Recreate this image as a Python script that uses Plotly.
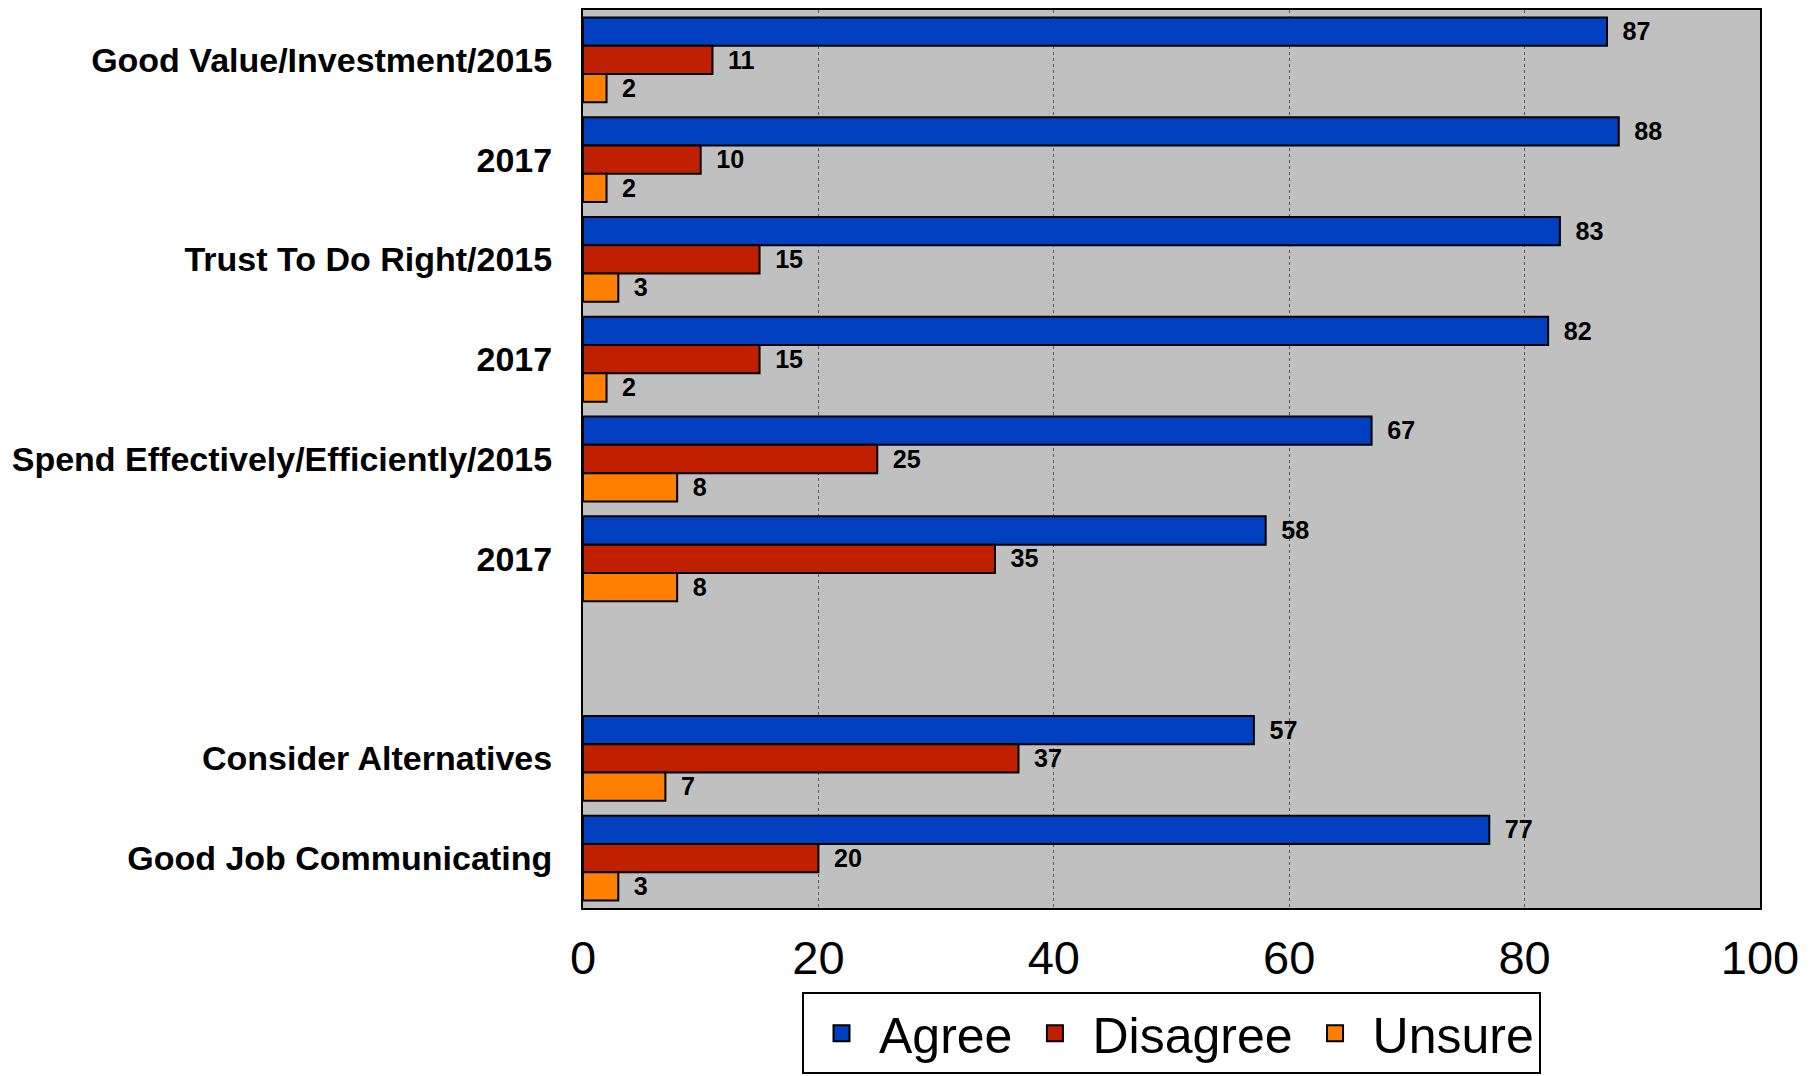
import plotly.graph_objects as go

labels = ["Good Value/Investment/2015", "2017", "Trust To Do Right/2015", "2017",
          "Spend Effectively/Efficiently/2015", "2017", "",
          "Consider Alternatives", "Good Job Communicating"]
agree = [87, 88, 83, 82, 67, 58, None, 57, 77]
disagree = [11, 10, 15, 15, 25, 35, None, 37, 20]
unsure = [2, 2, 3, 2, 8, 8, None, 7, 3]

series = [("Agree", agree, "#0040C0"),
          ("Disagree", disagree, "#C02000"),
          ("Unsure", unsure, "#FF8000")]

pos = list(range(len(labels)))

fig = go.Figure()
for name, vals, col in series:
    fig.add_trace(go.Bar(
        y=pos, x=vals, name=name, orientation="h", showlegend=False,
        marker=dict(color=col, line=dict(color="black", width=2)),
        texttemplate="\u2002%{x}", textposition="outside",
        textfont=dict(family="Arial", size=32, color="black", weight="bold"),
        cliponaxis=False,
    ))
    # legend swatch
    fig.add_trace(go.Scatter(
        x=[None], y=[None], mode="markers", name=name,
        marker=dict(symbol="square", size=30, color=col, line=dict(color="black", width=2)),
    ))

fig.update_layout(
    width=1818, height=1076,
    barmode="group", bargap=0.15, bargroupgap=0,
    plot_bgcolor="#C0C0C0", paper_bgcolor="white",
    margin=dict(l=575, r=66, t=2, b=176),
    font=dict(family="Arial", color="black"),
    legend=dict(orientation="h", x=0.5, xanchor="center", xref="paper",
                y=0.009, yanchor="bottom", yref="container",
                font=dict(size=50), bordercolor="black", borderwidth=2,
                itemwidth=65, tracegroupgap=0),
)
fig.update_xaxes(range=[0, 100], tickvals=[0, 20, 40, 60, 80, 100], automargin=False,
                 showgrid=True, gridcolor="#555555", griddash="dot", gridwidth=1,
                 showline=True, linecolor="black", linewidth=2, mirror=True,
                 zeroline=False, tickfont=dict(size=47), ticklabelstandoff=8)
fig.update_yaxes(range=[8.5, -0.5], tickvals=pos, ticktext=labels, automargin=False,
                 showgrid=False, zeroline=False,
                 showline=True, linecolor="black", linewidth=2, mirror=True,
                 tickfont=dict(size=34, weight="bold"), ticklabelstandoff=22)

fig.write_html("out.html")
